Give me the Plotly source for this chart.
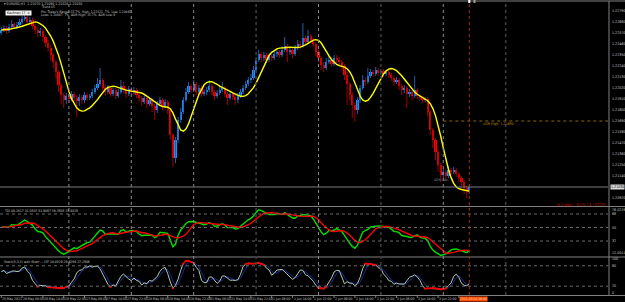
import numpy as np
import pandas as pd
import plotly.graph_objects as go

# ---------------- data (EURUSD H1) ----------------
first_open = 1.2257
close = [1.2260,1.2262,1.2259,1.2263,1.2266,1.2263,1.2265,1.2268,1.2271,1.2273,
 1.2268,1.2270,1.2264,1.2260,1.2257,1.2259,1.2253,1.2247,1.2242,1.2235,
 1.2228,1.2218,1.2205,1.2195,1.2190,1.2194,1.2191,1.2196,1.2192,1.2189,
 1.2193,1.2190,1.2195,1.2192,1.2194,1.2198,1.2202,1.2206,1.2210,1.2202,
 1.2198,1.2202,1.2196,1.2200,1.2194,1.2198,1.2204,1.2200,1.2196,1.2201,
 1.2198,1.2200,1.2195,1.2192,1.2188,1.2192,1.2186,1.2190,1.2184,1.2180,
 1.2186,1.2190,1.2184,1.2188,1.2180,1.2155,1.2132,1.2150,1.2170,1.2178,
 1.2190,1.2198,1.2204,1.2200,1.2206,1.2198,1.2202,1.2196,1.2198,1.2200,
 1.2204,1.2198,1.2194,1.2197,1.2200,1.2202,1.2196,1.2192,1.2196,1.2193,
 1.2190,1.2194,1.2198,1.2202,1.2206,1.2210,1.2212,1.2220,1.2230,1.2236,
 1.2232,1.2235,1.2230,1.2234,1.2232,1.2236,1.2238,1.2235,1.2240,1.2244,
 1.2238,1.2240,1.2236,1.2242,1.2246,1.2244,1.2252,1.2248,1.2254,1.2250,
 1.2246,1.2238,1.2232,1.2225,1.2222,1.2228,1.2230,1.2226,1.2232,1.2230,
 1.2228,1.2224,1.2215,1.2206,1.2195,1.2185,1.2180,1.2190,1.2202,1.2210,
 1.2208,1.2214,1.2218,1.2216,1.2220,1.2217,1.2219,1.2216,1.2218,1.2215,
 1.2212,1.2208,1.2210,1.2204,1.2200,1.2202,1.2196,1.2198,1.2194,1.2200,
 1.2194,1.2192,1.2190,1.2191,1.2178,1.2160,1.2150,1.2138,1.2125,1.2115,
 1.2118,1.2114,1.2120,1.2118,1.2120,1.2116,1.2112,1.2108,1.2102,1.2098,
 1.2103]
high = [1.2263,1.2265,1.2264,1.2266,1.2270,1.2268,1.2268,1.2271,1.2274,1.2277,
 1.2275,1.2273,1.2272,1.2266,1.2263,1.2262,1.2261,1.2255,1.2250,1.2245,
 1.2237,1.2230,1.2220,1.2207,1.2197,1.2197,1.2196,1.2199,1.2198,1.2195,
 1.2196,1.2195,1.2198,1.2197,1.2196,1.2201,1.2205,1.2212,1.2222,1.2212,
 1.2205,1.2205,1.2204,1.2203,1.2202,1.2201,1.2210,1.2208,1.2202,1.2204,
 1.2203,1.2203,1.2202,1.2197,1.2194,1.2195,1.2194,1.2193,1.2192,1.2186,
 1.2189,1.2193,1.2192,1.2191,1.2190,1.2182,1.2157,1.2153,1.2173,1.2182,
 1.2193,1.2202,1.2208,1.2206,1.2210,1.2208,1.2205,1.2204,1.2201,1.2203,
 1.2210,1.2206,1.2200,1.2200,1.2204,1.2208,1.2204,1.2198,1.2199,1.2198,
 1.2195,1.2197,1.2201,1.2205,1.2209,1.2213,1.2216,1.2224,1.2233,1.2240,
 1.2238,1.2238,1.2237,1.2237,1.2236,1.2239,1.2241,1.2240,1.2244,1.2253,
 1.2246,1.2243,1.2242,1.2245,1.2250,1.2249,1.2267,1.2255,1.2260,1.2256,
 1.2252,1.2248,1.2240,1.2234,1.2228,1.2232,1.2234,1.2233,1.2235,1.2235,
 1.2233,1.2230,1.2226,1.2218,1.2208,1.2198,1.2188,1.2193,1.2205,1.2215,
 1.2213,1.2222,1.2221,1.2220,1.2223,1.2222,1.2221,1.2221,1.2220,1.2220,
 1.2217,1.2214,1.2213,1.2212,1.2206,1.2205,1.2204,1.2201,1.2200,1.2214,
 1.2202,1.2196,1.2194,1.2193,1.2193,1.2180,1.2162,1.2152,1.2140,1.2127,
 1.2121,1.2120,1.2124,1.2122,1.2123,1.2122,1.2118,1.2114,1.2110,1.2104,
 1.2105]
low = [1.2255,1.2258,1.2256,1.2257,1.2261,1.2261,1.2261,1.2263,1.2266,1.2269,
 1.2265,1.2266,1.2261,1.2256,1.2253,1.2254,1.2249,1.2243,1.2238,1.2230,
 1.2222,1.2212,1.2198,1.2186,1.2182,1.2186,1.2187,1.2189,1.2188,1.2173,
 1.2184,1.2186,1.2187,1.2189,1.2190,1.2192,1.2196,1.2200,1.2204,1.2199,
 1.2194,1.2196,1.2193,1.2194,1.2191,1.2192,1.2196,1.2197,1.2192,1.2194,
 1.2195,1.2196,1.2192,1.2188,1.2184,1.2186,1.2182,1.2184,1.2178,1.2170,
 1.2177,1.2184,1.2180,1.2182,1.2176,1.2150,1.2123,1.2127,1.2147,1.2167,
 1.2176,1.2188,1.2196,1.2197,1.2198,1.2195,1.2196,1.2193,1.2194,1.2195,
 1.2198,1.2195,1.2190,1.2192,1.2195,1.2198,1.2193,1.2185,1.2190,1.2190,
 1.2185,1.2187,1.2192,1.2196,1.2200,1.2204,1.2207,1.2210,1.2218,1.2228,
 1.2228,1.2229,1.2227,1.2228,1.2229,1.2230,1.2233,1.2232,1.2233,1.2238,
 1.2228,1.2235,1.2232,1.2234,1.2240,1.2241,1.2242,1.2245,1.2246,1.2247,
 1.2243,1.2234,1.2228,1.2220,1.2218,1.2220,1.2226,1.2223,1.2224,1.2227,
 1.2225,1.2220,1.2210,1.2185,1.2190,1.2172,1.2168,1.2176,1.2187,1.2200,
 1.2204,1.2206,1.2212,1.2213,1.2214,1.2214,1.2215,1.2213,1.2214,1.2212,
 1.2209,1.2204,1.2206,1.2200,1.2195,1.2197,1.2182,1.2193,1.2190,1.2192,
 1.2191,1.2189,1.2187,1.2188,1.2174,1.2155,1.2142,1.2130,1.2118,1.2108,
 1.2112,1.2110,1.2112,1.2115,1.2116,1.2113,1.2108,1.2104,1.2096,1.2092,
 1.2096]

time_label_bars = list(range(0, 177, 8))
time_labels = ["25 May 2021", "26 May 06:00", "26 May 14:00", "26 May 22:00",
               "27 May 06:00", "27 May 14:00", "27 May 22:00", "28 May 06:00",
               "28 May 14:00", "28 May 22:00", "31 May 06:00", "31 May 14:00",
               "31 May 22:00", "1 Jun 06:00", "1 Jun 14:00", "1 Jun 22:00",
               "2 Jun 06:00", "2 Jun 14:00", "2 Jun 22:00", "3 Jun 06:00",
               "3 Jun 14:00", "3 Jun 22:00", "2021.06.04 06:00"]
day_start_bars = [26, 50, 74, 98, 122, 146, 170, 194]
dark_sep_bars = [98, 146, 194]
price_ticks = [1.2279, 1.2268, 1.2257, 1.2246, 1.2235, 1.2224, 1.2213, 1.2202,
               1.2191, 1.2180, 1.2169, 1.2158, 1.2147, 1.2136, 1.2125, 1.2114, 1.2092]
tdi_levels = [68, 50, 32]
stoch_levels = [80, 20]
stoch_labels = [100, 80, 20, 0]
adr_high = 1.2169
current_bar = 180

# ---------------- derived ----------------
n = len(close)
idx = np.arange(n)
opn = [first_open] + close[:-1]
c = pd.Series(close)

def wma(arr, p):
    arr = np.asarray(arr, float)
    out = np.empty(len(arr))
    for k in range(len(arr)):
        seg = arr[max(0, k - p + 1):k + 1]
        w = np.arange(1, len(seg) + 1)
        out[k] = np.dot(seg, w) / w.sum()
    return out

def hma(arr, p):
    a = 2 * wma(arr, p // 2) - wma(arr, p)
    return wma(a, int(round(np.sqrt(p))))

ma = wma(hma(close, 20), 4)

# TDI
delta = c.diff().fillna(0.0).values
seed = np.mean(np.abs(delta)) / 2
ag, al = seed, seed
rsi = []
for d in delta:
    ag = (ag * 12 + max(d, 0)) / 13
    al = (al * 12 + max(-d, 0)) / 13
    rsi.append(100 - 100 / (1 + ag / al))
rsi = pd.Series(rsi)
tdi_green = rsi.rolling(2, min_periods=1).mean()
tdi_red = rsi.rolling(7, min_periods=1).mean()

# Stochastic 5,3,3
hh = pd.Series(high).rolling(5, min_periods=1).max()
ll = pd.Series(low).rolling(5, min_periods=1).min()
k_line = 100 * (c - ll).rolling(3, min_periods=1).sum() / (hh - ll).rolling(3, min_periods=1).sum()
d_line = k_line.rolling(3, min_periods=1).mean()
ext = (k_line > 80) | (k_line < 20)
k_red = [v if e else None for v, e in zip(k_line, ext)]

# ---------------- figure ----------------
W, H = 625, 302
def py(p):
    return 1 - p / H
def pxp(p):
    return p / W
PR = 608 / W
XR = [-0.5, 233.35]
FONT = "Liberation Sans Narrow, DejaVu Sans Condensed, Liberation Sans, Arial"

fig = go.Figure()

bull = [i for i in range(n) if close[i] >= opn[i]]
bear = [i for i in range(n) if close[i] < opn[i]]

def wick_xy(ids):
    xs, ys = [], []
    for i in ids:
        xs += [i, i, None]
        ys += [low[i], high[i], None]
    return xs, ys

for ids, col in ((bull, "#1f5fa8"), (bear, "#a00000")):
    xs, ys = wick_xy(ids)
    fig.add_trace(go.Scatter(x=xs, y=ys, mode="lines", line=dict(color=col, width=1),
                             hoverinfo="skip", showlegend=False, xaxis="x", yaxis="y"))

for ids, col in ((bull, "#1e90ff"), (bear, "#ff0000")):
    base = [min(opn[i], close[i]) for i in ids]
    hgt = [max(abs(close[i] - opn[i]), 0.00008) for i in ids]
    fig.add_trace(go.Bar(x=ids, y=hgt, base=base, width=0.8,
                         marker=dict(color=col, line=dict(width=0)),
                         showlegend=False, xaxis="x", yaxis="y"))

fig.add_trace(go.Scatter(x=idx, y=ma, mode="lines", line=dict(color="#ffff00", width=1.4),
                         showlegend=False, xaxis="x", yaxis="y"))

fig.add_trace(go.Scatter(x=idx, y=tdi_green, mode="lines", line=dict(color="#00e000", width=1.4),
                         showlegend=False, xaxis="x", yaxis="y2"))
fig.add_trace(go.Scatter(x=idx, y=tdi_red, mode="lines", line=dict(color="#ff0000", width=1.4),
                         showlegend=False, xaxis="x", yaxis="y2"))

fig.add_trace(go.Scatter(x=idx, y=d_line, mode="lines", line=dict(color="#1a2a9a", width=1),
                         showlegend=False, xaxis="x", yaxis="y3"))
fig.add_trace(go.Scatter(x=idx, y=k_line, mode="lines", line=dict(color="#b4ccac", width=1),
                         showlegend=False, xaxis="x", yaxis="y3"))
fig.add_trace(go.Scatter(x=idx, y=k_red, mode="lines+markers", line=dict(color="#ff0000", width=1.2),
                         marker=dict(color="#ff0000", size=2.2),
                         showlegend=False, xaxis="x", yaxis="y3"))

shapes = []
GRAY = "#808080"
for yy in (1, 206.5, 257, 295.5):
    shapes.append(dict(type="line", xref="paper", yref="paper", x0=0, x1=1, y0=py(yy), y1=py(yy),
                       line=dict(color=GRAY, width=1)))
shapes.append(dict(type="line", xref="paper", yref="paper", x0=pxp(609), x1=pxp(609),
                   y0=py(296), y1=py(1), line=dict(color=GRAY, width=1)))
for b in day_start_bars:
    dark = b in dark_sep_bars
    shapes.append(dict(type="line", xref="x", yref="paper", x0=b, x1=b, y0=py(295), y1=py(1.5),
                       line=dict(color="#3c3c3c" if dark else "#8a8a8a", width=1.6 if dark else 1,
                                 dash="dot")))
for lv in tdi_levels:
    shapes.append(dict(type="line", xref="paper", yref="y2", x0=0, x1=PR, y0=lv, y1=lv,
                       line=dict(color="#6a6a6a", width=1, dash="dot")))
for lv in stoch_levels:
    shapes.append(dict(type="line", xref="paper", yref="y3", x0=0, x1=PR, y0=lv, y1=lv,
                       line=dict(color="#6a6a6a", width=1, dash="dot")))
shapes.append(dict(type="line", xref="paper", yref="y", x0=0, x1=PR, y0=close[-1], y1=close[-1],
                   line=dict(color="#7a7a7a", width=1)))
shapes.append(dict(type="line", xref="x", yref="y", x0=170, x1=XR[1], y0=adr_high, y1=adr_high,
                   line=dict(color="#8b6508", width=1, dash="dot")))
shapes.append(dict(type="line", xref="x", yref="paper", x0=current_bar, x1=current_bar,
                   y0=py(295), y1=py(1.5), line=dict(color="#a03010", width=1, dash="dot")))
shapes.append(dict(type="rect", xref="x", yref="paper", x0=current_bar - 0.4, x1=current_bar + 0.4,
                   y0=py(3), y1=py(0), fillcolor="#ffffff", line=dict(width=0)))
shapes.append(dict(type="rect", xref="x", yref="paper", x0=current_bar + 1.6, x1=current_bar + 2.4,
                   y0=py(3), y1=py(0), fillcolor="#9a9a9a", line=dict(width=0)))
for b in time_label_bars:
    shapes.append(dict(type="line", xref="x", yref="paper", x0=b, x1=b, y0=py(295.5), y1=py(298),
                       line=dict(color=GRAY, width=1)))

ann = []
def txt(x, y, s, color="#c8c8c8", size=3.8, xanchor="left", xref="paper", yref="paper",
        bg=None, yanchor="middle"):
    d = dict(x=x, y=y, xref=xref, yref=yref, text=s, showarrow=False, xanchor=xanchor,
             yanchor=yanchor, font=dict(color=color, size=size, family=FONT),
             borderpad=0)
    if bg:
        d["bgcolor"] = bg
    ann.append(d)

for p in price_ticks:
    txt(pxp(610.5), p, f"{p:.5f}", yref="y", size=3.6)
txt(pxp(609.5), close[-1], f"{close[-1]:.5f}", color="#000000", yref="y", bg="#d8d8d8", size=3.6)
txt(pxp(611), py(209.5), "76.0219", size=3.6)
for lv in tdi_levels:
    txt(pxp(611), lv, str(lv), yref="y2", size=3.6)
txt(pxp(611), py(253), "12.0011", size=3.6)
for lv in stoch_labels:
    txt(pxp(611), lv, str(lv), yref="y3", size=3.6)
for b, s in zip(time_label_bars, time_labels):
    if b == time_label_bars[-1]:
        txt(b, py(298.8), s, color="#ffd9b0", xref="x", bg="#ff4a00", size=3.4)
    else:
        txt(b, py(298.8), s, xref="x", size=3.4)
txt(pxp(3), py(3.5), "▾ EURUSD,H1  1.21070 1.21080 1.21020 1.21030", size=3.5)
txt(pxp(40), py(7.5), "Trend 65", size=3.3)
txt(pxp(5), py(12.5), " Kaufman 17  × ", color="#000000", bg="#f0f0f0", size=3.4)
txt(pxp(40), py(11.5), "Pts: Today's Range: 35.7%  High: 1.22321  7%  Low: 1.20945", size=3.3)
txt(pxp(40), py(15.5), "Lows: 1.20847  7%  ADR High: 35.7%  ADR Low: 8", size=3.3)
txt(185, adr_high, "ADR High: 1.21690", color="#b8860b", xref="x", yref="y", size=3.6,
    yanchor="top")
txt(166, py(180), "ADR Low", color="#7090a8", xref="x", size=3.4)
txt(pxp(607), py(204), "-0.3 pips | -0.1% | 4 | 57:29", color="#d00000", xanchor="right", size=4.0)
txt(pxp(3), py(211), "TDI 46.2417 31.0507 51.9867 36.7605 33.4529", size=3.4)
txt(pxp(3), py(261.5), "Stoch(5,3,3) with Sharr ... LTF 28.4529 29.6294 27.2906", size=3.4)

ax_common = dict(showgrid=False, zeroline=False, showticklabels=False, showline=False,
                 fixedrange=True)
fig.update_layout(
    width=W, height=H, margin=dict(l=0, r=0, t=0, b=0),
    paper_bgcolor="#000000", plot_bgcolor="#000000",
    barmode="overlay", bargap=0, showlegend=False,
    xaxis=dict(domain=[0, PR], range=XR, anchor="y3", **ax_common),
    yaxis=dict(domain=[py(205), py(3)], range=[1.2085, 1.2287], anchor="x", **ax_common),
    yaxis2=dict(domain=[py(256), py(208)], range=[12, 76], anchor="x", **ax_common),
    yaxis3=dict(domain=[py(295), py(258)], range=[-5.9, 102.9], anchor="x", **ax_common),
    shapes=shapes, annotations=ann,
)
fig.write_html("out.html")
